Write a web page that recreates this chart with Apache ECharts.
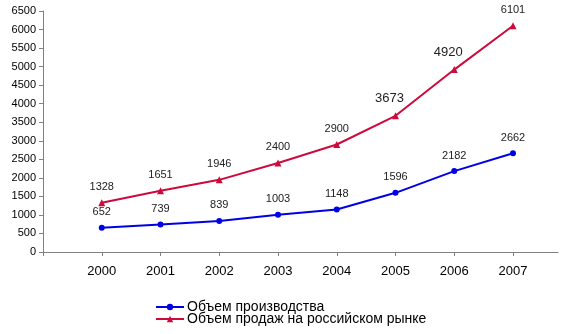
<!DOCTYPE html>
<html><head><meta charset="utf-8">
<script src="https://cdn.jsdelivr.net/npm/echarts@6/dist/echarts.min.js"></script>
<style>html,body{margin:0;padding:0;background:#fff}#c{width:561px;height:334px}</style>
</head><body><div id="c"></div>
<script>
var years = ['2000','2001','2002','2003','2004','2005','2006','2007'];
var production = [652, 739, 839, 1003, 1148, 1596, 2182, 2662];
var sales = [1328, 1651, 1946, 2400, 2900, 3673, 4920, 6101];
var seriesNames = ['Объем производства', 'Объем продаж на российском рынке'];
var yTicks = {min: 0, max: 6500, interval: 500};

var FONT = '"Liberation Sans", Arial, sans-serif';
var cats = [''].concat(years);
function pad(arr, big) {
  return [null].concat(arr.map(function (v, i) {
    var big1 = big && (i === 5 || i === 6);
    return big1 ? {value: v, label: {fontSize: 13, offset: [-6, 0]}} : v;
  }));
}
function legendItem(name, top) {
  return {
    orient: 'horizontal', left: 155, top: top, padding: 0,
    itemWidth: 28, itemHeight: 8, itemGap: 4,
    textStyle: {fontFamily: FONT, fontSize: 14, color: '#000', padding: [0, 0, 0, -2]},
    data: [name]
  };
}
var chart = echarts.init(document.getElementById('c'));
chart.setOption({
  animation: false,
  textStyle: {fontFamily: FONT},
  grid: [
    {left: 43, right: 48, top: 11, bottom: 82},
    {left: 43, right: 3, top: 11, bottom: 82}
  ],
  legend: [legendItem(seriesNames[0], 300), legendItem(seriesNames[1], 312)],
  xAxis: [
    {
      type: 'category', gridIndex: 0, data: cats, boundaryGap: false,
      axisLine: {lineStyle: {color: '#808080', width: 1}},
      axisTick: {show: true, length: 4, inside: false, lineStyle: {color: '#808080'}},
      axisLabel: {fontSize: 13, color: '#000', margin: 13, fontFamily: FONT},
      splitLine: {show: false}
    },
    {
      type: 'value', gridIndex: 1, min: 0, max: 1,
      axisLine: {show: true, lineStyle: {color: '#808080', width: 1}},
      axisTick: {show: false}, axisLabel: {show: false}, splitLine: {show: false}
    }
  ],
  yAxis: [
    {
      type: 'value', gridIndex: 0, min: yTicks.min, max: yTicks.max, interval: yTicks.interval,
      axisLine: {show: true, lineStyle: {color: '#808080', width: 1}},
      axisTick: {show: true, length: 4, lineStyle: {color: '#808080'}},
      axisLabel: {fontSize: 11, color: '#000', margin: 7, fontFamily: FONT,
        formatter: function (v) { return String(v); }},
      splitLine: {show: false}
    },
    {
      type: 'value', gridIndex: 1, min: 0, max: 1, show: false
    }
  ],
  series: [
    {
      name: seriesNames[0], type: 'line', data: pad(production, false),
      xAxisIndex: 0, yAxisIndex: 0,
      symbol: 'circle', symbolSize: 6,
      lineStyle: {color: '#0000E6', width: 2},
      itemStyle: {color: '#0000E6'},
      label: {show: true, position: 'top', distance: 7, fontSize: 11, color: '#222', fontFamily: FONT}
    },
    {
      name: seriesNames[1], type: 'line', data: pad(sales, true),
      xAxisIndex: 0, yAxisIndex: 0,
      symbol: 'triangle', symbolSize: 7,
      lineStyle: {color: '#CC0A3C', width: 2},
      itemStyle: {color: '#CC0A3C'},
      label: {show: true, position: 'top', distance: 7, fontSize: 11, color: '#222', fontFamily: FONT}
    }
  ]
});
</script>
</body></html>
